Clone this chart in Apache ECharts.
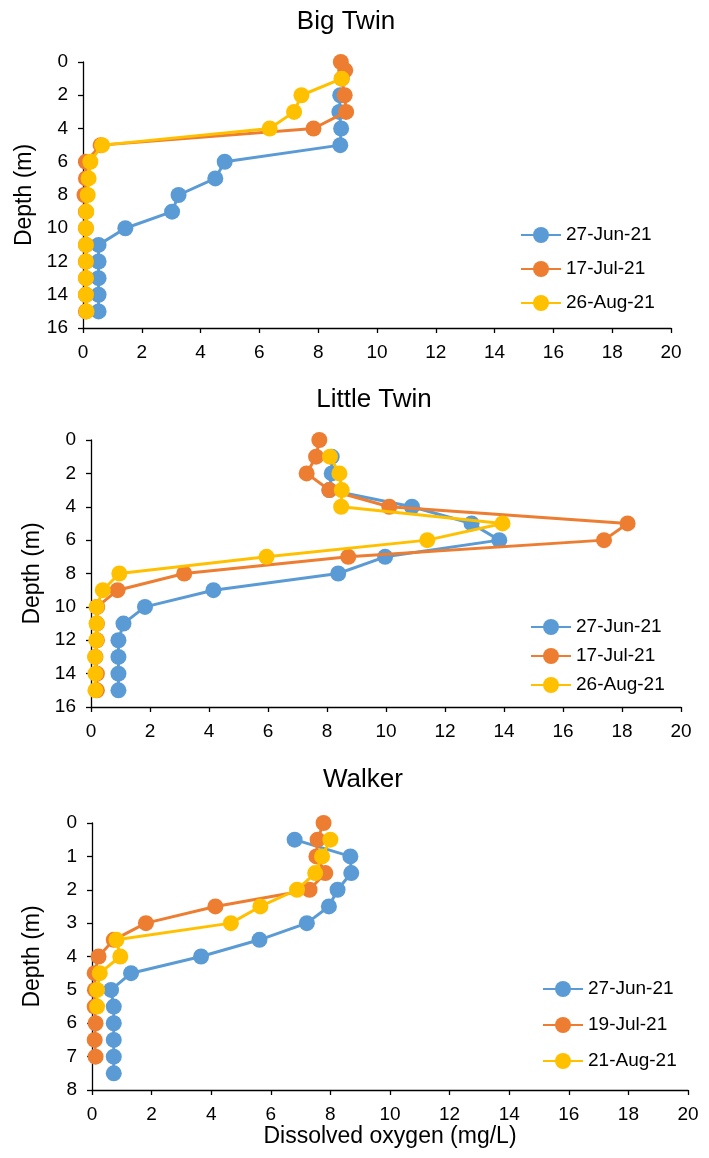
<!DOCTYPE html>
<html>
<head>
<meta charset="utf-8">
<script src="https://cdn.jsdelivr.net/npm/echarts@6/dist/echarts.min.js"></script>
<style>
html,body{margin:0;padding:0;background:#fff;}
#chart{width:709px;height:1158px;}
</style>
</head>
<body>
<div id="chart"></div>
<script>
// ---------- data ----------
const panelTitles = ['Big Twin', 'Little Twin', 'Walker'];
const xTicks = [0, 2, 4, 6, 8, 10, 12, 14, 16, 18, 20];

// Big Twin
const bigJunName = '27-Jun-21';
const bigJunDepth = [2, 3, 4, 5, 6, 7, 8, 9, 10, 11, 12, 13, 14, 15];
const bigJunDO    = [8.75, 8.72, 8.78, 8.75, 4.82, 4.5, 3.25, 3.03, 1.44, 0.53, 0.53, 0.53, 0.53, 0.53];
const bigJulName = '17-Jul-21';
const bigJulDepth = [0, 0.5, 1, 2, 3, 4, 5, 6, 7, 8, 9, 10, 11, 12, 13, 14, 15];
const bigJulDO    = [8.77, 8.92, 8.8, 8.9, 8.95, 7.84, 0.6, 0.1, 0.1, 0.05, 0.1, 0.1, 0.1, 0.1, 0.1, 0.1, 0.1];
const bigAugName = '26-Aug-21';
const bigAugDepth = [1, 2, 3, 4, 5, 6, 7, 8, 9, 10, 11, 12, 13, 14, 15];
const bigAugDO    = [8.8, 7.43, 7.18, 6.35, 0.65, 0.25, 0.19, 0.16, 0.11, 0.1, 0.1, 0.1, 0.1, 0.1, 0.12];

// Little Twin
const litJunName = '27-Jun-21';
const litJunDepth = [1, 2, 3, 4, 5, 6, 7, 8, 9, 10, 11, 12, 13, 14, 15];
const litJunDO    = [8.16, 8.16, 8.08, 10.88, 12.9, 13.84, 9.97, 8.38, 4.15, 1.83, 1.1, 0.93, 0.93, 0.93, 0.93];
const litJulName = '17-Jul-21';
const litJulDepth = [0, 1, 2, 3, 4, 5, 6, 7, 8, 9, 10, 11, 12, 13, 14, 15];
const litJulDO    = [7.74, 7.63, 7.31, 8.08, 10.11, 18.19, 17.39, 8.72, 3.16, 0.9, 0.21, 0.2, 0.2, 0.15, 0.2, 0.2];
const litAugName = '26-Aug-21';
const litAugDepth = [1, 2, 3, 4, 5, 6, 7, 8, 9, 10, 11, 12, 13, 14, 15];
const litAugDO    = [8.1, 8.42, 8.5, 8.48, 13.95, 11.4, 5.95, 0.96, 0.4, 0.19, 0.19, 0.18, 0.14, 0.15, 0.15];

// Walker
const walJunName = '27-Jun-21';
const walJunDepth = [0.5, 1, 1.5, 2, 2.5, 3, 3.5, 4, 4.5, 5, 5.5, 6, 6.5, 7, 7.5];
const walJunDO    = [6.8, 8.67, 8.7, 8.24, 7.95, 7.21, 5.62, 3.66, 1.31, 0.64, 0.73, 0.73, 0.73, 0.73, 0.73];
const walJulName = '19-Jul-21';
const walJulDepth = [0, 0.5, 1, 1.5, 2, 2.5, 3, 3.5, 4, 4.5, 5, 5.5, 6, 6.5, 7];
const walJulDO    = [7.77, 7.57, 7.53, 7.83, 7.3, 4.14, 1.81, 0.73, 0.22, 0.09, 0.1, 0.09, 0.12, 0.09, 0.12];
const walAugName = '21-Aug-21';
const walAugDepth = [0.5, 1, 1.5, 2, 2.5, 3, 3.5, 4, 4.5, 5, 5.5];
const walAugDO    = [8.0, 7.72, 7.49, 6.88, 5.65, 4.66, 0.82, 0.95, 0.26, 0.17, 0.17];

const xAxisName = 'Dissolved oxygen (mg/L)';
const yAxisName = 'Depth (m)';

// ---------- styling / layout ----------
const COLORS = ['#5B9BD5', '#ED7D31', '#FFC000'];
const FONT = 'Liberation Sans, Arial, sans-serif';

const panels = [
  { title: panelTitles[0], titleX: 346, titleTop: 7,
    grid: { left: 83, right: 38, top: 62, height: 266 },
    yMax: 16, yInt: 2, nameGap: 47,
    legend: { left: 520, top: 225, itemGap: 14 },
    series: [[bigJunName, bigJunDepth, bigJunDO], [bigJulName, bigJulDepth, bigJulDO], [bigAugName, bigAugDepth, bigAugDO]] },
  { title: panelTitles[1], titleX: 374, titleTop: 385,
    grid: { left: 91, right: 28, top: 440, height: 267 },
    yMax: 16, yInt: 2, nameGap: 46,
    legend: { left: 530, top: 617, itemGap: 9 },
    series: [[litJunName, litJunDepth, litJunDO], [litJulName, litJulDepth, litJulDO], [litAugName, litAugDepth, litAugDO]] },
  { title: panelTitles[2], titleX: 363, titleTop: 765,
    grid: { left: 92, right: 21, top: 823, height: 267 },
    yMax: 8, yInt: 1, nameGap: 48,
    legend: { left: 542, top: 979, itemGap: 16 },
    series: [[walJunName, walJunDepth, walJunDO], [walJulName, walJulDepth, walJulDO], [walAugName, walAugDepth, walAugDO]] }
];

const axisLineStyle = { color: '#000', width: 1.3 };

const option = {
  animation: false,
  backgroundColor: '#fff',
  title: [], grid: [], xAxis: [], yAxis: [], legend: [], series: []
};

panels.forEach((p, i) => {
  option.title.push({
    text: p.title, left: p.titleX, top: p.titleTop, textAlign: 'center', padding: 0,
    textStyle: { fontFamily: FONT, fontSize: 26, fontWeight: 'normal', color: '#000', lineHeight: 30 }
  });
  option.grid.push(Object.assign({ containLabel: false }, p.grid));
  option.xAxis.push({
    type: 'value', gridIndex: i, min: xTicks[0], max: xTicks[xTicks.length - 1], interval: xTicks[1] - xTicks[0],
    position: 'bottom',
    name: i === 2 ? xAxisName : '', nameLocation: 'middle', nameGap: 34,
    nameTextStyle: { fontFamily: FONT, fontSize: 23, color: '#000' },
    axisLine: { show: true, onZero: false, lineStyle: axisLineStyle },
    axisTick: { show: true, inside: false, length: 5, lineStyle: axisLineStyle },
    axisLabel: { fontFamily: FONT, fontSize: 19, color: '#000', margin: 15 },
    splitLine: { show: false }
  });
  option.yAxis.push({
    type: 'value', gridIndex: i, min: 0, max: p.yMax, interval: p.yInt, inverse: true,
    name: yAxisName, nameLocation: 'middle', nameGap: p.nameGap, nameRotate: 90,
    nameTextStyle: { fontFamily: FONT, fontSize: 23, color: '#000' },
    axisLine: { show: true, onZero: false, lineStyle: axisLineStyle },
    axisTick: { show: true, inside: false, length: 5, lineStyle: axisLineStyle },
    axisLabel: { fontFamily: FONT, fontSize: 19, color: '#000', margin: 15 },
    splitLine: { show: false }
  });
  option.legend.push({
    orient: 'vertical', left: p.legend.left, top: p.legend.top, itemGap: p.legend.itemGap,
    itemWidth: 40, itemHeight: 20, padding: 0,
    data: p.series.map(s => s[0]),
    textStyle: { fontFamily: FONT, fontSize: 19, color: '#000', lineHeight: 20 }
  });
  p.series.forEach((s, k) => {
    option.series.push({
      type: 'line', name: s[0], xAxisIndex: i, yAxisIndex: i,
      data: s[1].map((d, j) => [s[2][j], d]),
      symbol: 'circle', symbolSize: 16, showSymbol: true,
      lineStyle: { color: COLORS[k], width: 3 },
      itemStyle: { color: COLORS[k] },
      z: 2 + k
    });
  });
});

const chart = echarts.init(document.getElementById('chart'), null, { renderer: 'canvas' });
chart.setOption(option);
</script>
</body>
</html>
